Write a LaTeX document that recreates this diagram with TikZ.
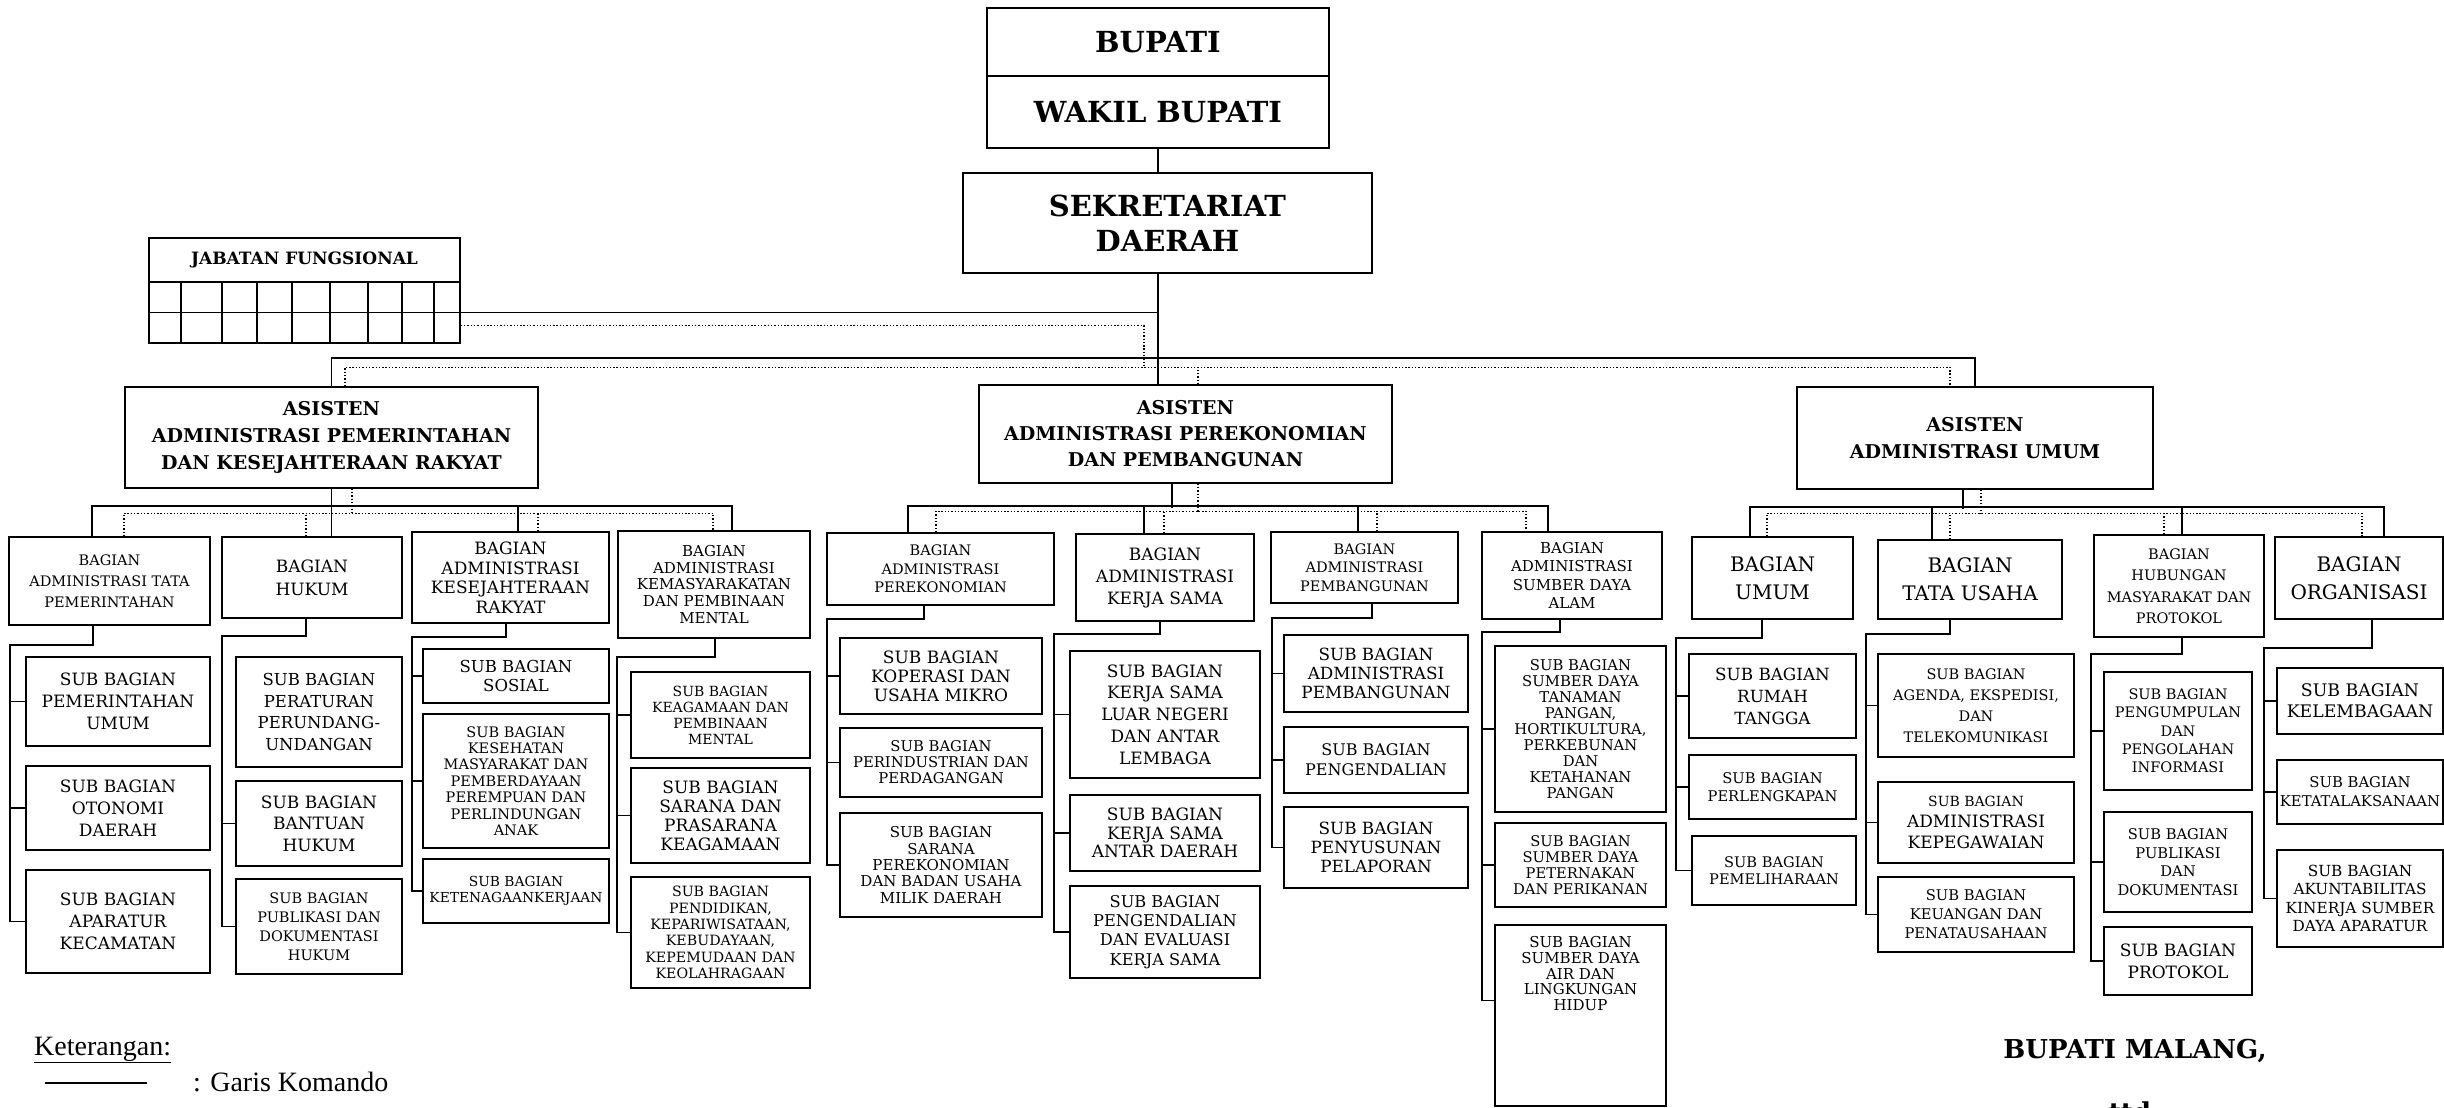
\documentclass[tikz,border=0pt]{standalone}
\usepackage{fontspec}
\setmainfont{DejaVu Serif}
\newfontfamily\legendfont{Liberation Serif}
\newcommand{\fsz}[2]{\fontsize{#1}{#2}\selectfont}
\newcommand{\orgunit}[7][]{\node[orgbox,#1,minimum width={#5-#3},minimum height={#6-#4}] (#2) at ({(#3+#5)/2},{(#4+#6)/2}) {#7};}

\begin{document}
\begin{tikzpicture}[x=1pt,y=-1pt,
		orgbox/.style={draw,line width=1.5pt,inner sep=0pt,align=center},
		komando/.style={line width=1.6pt},
		koordinasi/.style={line width=1.4pt,dash pattern=on 1.4pt off 1.9pt}]
		\useasboundingbox (0,0) rectangle (2444,1108);

		\orgunit[font=\fsz{29}{35}\bfseries]{Bupati}{987}{8}{1329}{76}{BUPATI}
		\orgunit[font=\fsz{29}{35}\bfseries]{WakilBupati}{987}{76}{1329}{148}{WAKIL BUPATI}
		\orgunit[font=\fsz{29}{35}\bfseries]{Sekda}{963}{173}{1372}{273}{SEKRETARIAT\\DAERAH}

		\orgunit[font=\fsz{17}{20}\bfseries]{Jafung}{149}{238}{460}{282}{JABATAN FUNGSIONAL}
		\orgunit{JafungGrid}{149}{282}{460}{343}{}
		\draw[line width=1.5pt] (JafungGrid.west) -- (JafungGrid.east)
			(181,282) -- (181,343) (222,282) -- (222,343) (257,282) -- (257,343)
			(292,282) -- (292,343) (330,282) -- (330,343) (368,282) -- (368,343)
			(402,282) -- (402,343) (434,282) -- (434,343);

		\orgunit[font=\fsz{19}{27}\bfseries]{AsPem}{125}{387}{538}{488}{ASISTEN\\ADMINISTRASI PEMERINTAHAN\\DAN KESEJAHTERAAN RAKYAT}
		\orgunit[font=\fsz{19}{26}\bfseries]{AsEkbang}{979}{385}{1392}{483}{ASISTEN\\ADMINISTRASI PEREKONOMIAN\\DAN PEMBANGUNAN}
		\orgunit[font=\fsz{19}{27}\bfseries]{AsUmum}{1797}{387}{2153}{489}{ASISTEN\\ADMINISTRASI UMUM}

		\orgunit[font=\fsz{14.5}{21}]{BagTapem}{9}{537}{210}{625}{BAGIAN\\ADMINISTRASI TATA\\PEMERINTAHAN}
		\orgunit[font=\fsz{17}{23}]{BagHukum}{222}{537}{402}{618}{BAGIAN\\HUKUM}
		\orgunit[font=\fsz{17}{19.5}]{BagKesra}{412}{532}{609}{623}{BAGIAN\\ADMINISTRASI\\KESEJAHTERAAN\\RAKYAT}
		\orgunit[font=\fsz{15}{16.7}]{BagKemas}{618}{531}{810}{638}{BAGIAN\\ADMINISTRASI\\KEMASYARAKATAN\\DAN PEMBINAAN\\MENTAL}

		\orgunit[font=\fsz{17}{22}]{SbPemUmum}{26}{657}{210}{746}{SUB BAGIAN\\PEMERINTAHAN\\UMUM}
		\orgunit[font=\fsz{17}{22}]{SbOtda}{26}{766}{210}{850}{SUB BAGIAN\\OTONOMI\\DAERAH}
		\orgunit[font=\fsz{17}{22}]{SbApKec}{26}{870}{210}{973}{SUB BAGIAN\\APARATUR\\KECAMATAN}
		\orgunit[font=\fsz{16.5}{21.5}]{SbPerUU}{236}{657}{402}{767}{SUB BAGIAN\\PERATURAN\\PERUNDANG-\\UNDANGAN}
		\orgunit[font=\fsz{17}{21.5}]{SbBanHuk}{236}{781}{402}{866}{SUB BAGIAN\\BANTUAN\\HUKUM}
		\orgunit[font=\fsz{14.5}{19}]{SbPubDokHuk}{236}{879}{402}{974}{SUB BAGIAN\\PUBLIKASI DAN\\DOKUMENTASI\\HUKUM}
		\orgunit[font=\fsz{16.5}{18.5}]{SbSosial}{423}{649}{609}{703}{SUB BAGIAN\\SOSIAL}
		\orgunit[font=\fsz{14.5}{16.4}]{SbKesmas}{423}{714}{609}{848}{SUB BAGIAN\\KESEHATAN\\MASYARAKAT DAN\\PEMBERDAYAAN\\PEREMPUAN DAN\\PERLINDUNGAN\\ANAK}
		\orgunit[font=\fsz{13.8}{16.3}]{SbNaker}{423}{859}{609}{923}{SUB BAGIAN\\KETENAGAANKERJAAN}
		\orgunit[font=\fsz{14}{16}]{SbKeagamaan}{631}{672}{810}{758}{SUB BAGIAN\\KEAGAMAAN DAN\\PEMBINAAN\\MENTAL}
		\orgunit[font=\fsz{17}{19}]{SbSarpras}{631}{768}{810}{863}{SUB BAGIAN\\SARANA DAN\\PRASARANA\\KEAGAMAAN}
		\orgunit[font=\fsz{14.2}{16.3}]{SbPendidikan}{631}{877}{810}{988}{SUB BAGIAN\\PENDIDIKAN,\\KEPARIWISATAAN,\\KEBUDAYAAN,\\KEPEMUDAAN DAN\\KEOLAHRAGAAN}

		\orgunit[font=\fsz{14.5}{18.7}]{BagPerekonomian}{827}{533}{1054}{605}{BAGIAN\\ADMINISTRASI\\PEREKONOMIAN}
		\orgunit[font=\fsz{17}{22}]{BagKerjaSama}{1076}{534}{1254}{621}{BAGIAN\\ADMINISTRASI\\KERJA SAMA}
		\orgunit[font=\fsz{14.5}{18.3}]{BagPembangunan}{1271}{532}{1458}{603}{BAGIAN\\ADMINISTRASI\\PEMBANGUNAN}
		\orgunit[font=\fsz{15}{18.5}]{BagSda}{1482}{532}{1662}{619}{BAGIAN\\ADMINISTRASI\\SUMBER DAYA\\ALAM}

		\orgunit[font=\fsz{17}{19}]{SbKoperasi}{840}{638}{1042}{714}{SUB BAGIAN\\KOPERASI DAN\\USAHA MIKRO}
		\orgunit[font=\fsz{14.8}{16}]{SbIndag}{840}{728}{1042}{797}{SUB BAGIAN\\PERINDUSTRIAN DAN\\PERDAGANGAN}
		\orgunit[font=\fsz{15}{16.3}]{SbBumd}{840}{813}{1042}{917}{SUB BAGIAN\\SARANA\\PEREKONOMIAN\\DAN BADAN USAHA\\MILIK DAERAH}
		\orgunit[font=\fsz{17}{21.7}]{SbKsLn}{1070}{651}{1260}{778}{SUB BAGIAN\\KERJA SAMA\\LUAR NEGERI\\DAN ANTAR\\LEMBAGA}
		\orgunit[font=\fsz{17}{18.7}]{SbKsDaerah}{1070}{795}{1260}{871}{SUB BAGIAN\\KERJA SAMA\\ANTAR DAERAH}
		\orgunit[font=\fsz{16.2}{19.2}]{SbKsEval}{1070}{886}{1260}{978}{SUB BAGIAN\\PENGENDALIAN\\DAN EVALUASI\\KERJA SAMA}
		\orgunit[font=\fsz{16.8}{19.2}]{SbAdmPemb}{1284}{635}{1468}{712}{SUB BAGIAN\\ADMINISTRASI\\PEMBANGUNAN}
		\orgunit[font=\fsz{16}{20}]{SbPengendalian}{1284}{727}{1468}{793}{SUB BAGIAN\\PENGENDALIAN}
		\orgunit[font=\fsz{16.8}{19}]{SbPelaporan}{1284}{807}{1468}{888}{SUB BAGIAN\\PENYUSUNAN\\PELAPORAN}
		\orgunit[font=\fsz{14.8}{16}]{SbSdTanaman}{1495}{646}{1666}{812}{SUB BAGIAN\\SUMBER DAYA\\TANAMAN\\PANGAN,\\HORTIKULTURA,\\PERKEBUNAN\\DAN\\KETAHANAN\\PANGAN}
		\orgunit[font=\fsz{14.7}{16.1}]{SbSdTernak}{1495}{823}{1666}{907}{SUB BAGIAN\\SUMBER DAYA\\PETERNAKAN\\DAN PERIKANAN}
		\orgunit{SbSdAir}{1495}{925}{1666}{1106}{}
		\node[align=center,inner sep=0pt,anchor=north,font=\fsz{15}{15.8}] (SbSdAirText) at ([yshift=-12pt]SbSdAir.north) {SUB BAGIAN\\SUMBER DAYA\\AIR DAN\\LINGKUNGAN\\HIDUP};

		\orgunit[font=\fsz{20}{28}]{BagUmum}{1692}{537}{1853}{619}{BAGIAN\\UMUM}
		\orgunit[font=\fsz{20}{28}]{BagTataUsaha}{1878}{540}{2062}{619}{BAGIAN\\TATA USAHA}
		\orgunit[font=\fsz{14.5}{21.5}]{BagHumas}{2094}{535}{2264}{637}{BAGIAN\\HUBUNGAN\\MASYARAKAT DAN\\PROTOKOL}
		\orgunit[font=\fsz{20}{28}]{BagOrganisasi}{2275}{537}{2443}{619}{BAGIAN\\ORGANISASI}

		\orgunit[font=\fsz{16.8}{22}]{SbRumahTangga}{1689}{654}{1856}{738}{SUB BAGIAN\\RUMAH\\TANGGA}
		\orgunit[font=\fsz{14.7}{17.7}]{SbPerlengkapan}{1689}{755}{1856}{819}{SUB BAGIAN\\PERLENGKAPAN}
		\orgunit[font=\fsz{14.6}{17.5}]{SbPemeliharaan}{1692}{836}{1856}{905}{SUB BAGIAN\\PEMELIHARAAN}
		\orgunit[font=\fsz{14.5}{21}]{SbAgenda}{1878}{654}{2074}{757}{SUB BAGIAN\\AGENDA, EKSPEDISI,\\DAN\\TELEKOMUNIKASI}
		\orgunit[font=\fsz{17}{21}]{SbKepegawaian}{1878}{782}{2074}{863}{{\fontsize{14}{21}\selectfont SUB BAGIAN}\\ADMINISTRASI\\KEPEGAWAIAN}
		\orgunit[font=\fsz{14.7}{19}]{SbKeuangan}{1878}{877}{2074}{952}{SUB BAGIAN\\KEUANGAN DAN\\PENATAUSAHAAN}
		\orgunit[font=\fsz{14.5}{18.3}]{SbInformasi}{2104}{672}{2252}{790}{SUB BAGIAN\\PENGUMPULAN\\DAN\\PENGOLAHAN\\INFORMASI}
		\orgunit[font=\fsz{14.7}{18.5}]{SbPublikasi}{2104}{812}{2252}{912}{SUB BAGIAN\\PUBLIKASI\\DAN\\DOKUMENTASI}
		\orgunit[font=\fsz{17}{22}]{SbProtokol}{2104}{927}{2252}{995}{SUB BAGIAN\\PROTOKOL}
		\orgunit[font=\fsz{17.3}{21}]{SbKelembagaan}{2277}{668}{2443}{734}{SUB BAGIAN\\KELEMBAGAAN}
		\orgunit[font=\fsz{14.8}{19}]{SbKetatalaksanaan}{2277}{760}{2443}{824}{SUB BAGIAN\\KETATALAKSANAAN}
		\orgunit[font=\fsz{15.3}{18.5}]{SbAkuntabilitas}{2277}{850}{2443}{947}{SUB BAGIAN\\AKUNTABILITAS\\KINERJA SUMBER\\DAYA APARATUR}

		\coordinate (KoordAtas) at (1144,368);
		\coordinate (SpTapem) at (10,645);
		\coordinate (SpHukum) at (222,636);
		\coordinate (SpKesra) at (412,637);
		\coordinate (SpKemas) at (617,657);
		\coordinate (SpPerek) at (827,619);
		\coordinate (SpKs) at (1054,634);
		\coordinate (SpPemb) at (1272,618);
		\coordinate (SpSda) at (1482,632);
		\coordinate (SpUmum) at (1676,638);
		\coordinate (SpTu) at (1866,634);
		\coordinate (SpHumas) at (2091,654);
		\coordinate (SpOrg) at (2264,648);

		\draw[komando] (WakilBupati.south) -- (Sekda.north -| WakilBupati.south);
		\draw[komando] (WakilBupati.south |- Sekda.south) -- (WakilBupati.south |- AsEkbang.north);
		\draw[komando] (JafungGrid.east) -- (JafungGrid.east -| WakilBupati.south);
		\draw[koordinasi] ([yshift=-13pt]JafungGrid.east) -| (KoordAtas);

		\draw[komando] (AsPem.north) -- ++(0,-28) -| (AsUmum.north);
		\draw[koordinasi] ([xshift=13.5pt]AsPem.north) -- ++(0,-19) -| ([xshift=-25pt]AsUmum.north);
		\draw[koordinasi] ([xshift=12.5pt]AsEkbang.north) -- ++(0,-17);

		\draw[komando] (AsPem.south) -- (AsPem.south |- BagHukum.north);
		\draw[komando] ([xshift=-17.5pt]BagTapem.north) -- ++(0,-30) -| ([xshift=18pt]BagKemas.north);
		\draw[komando] ([xshift=7.5pt]BagKesra.north) -- ++(0,-25);
		\draw[koordinasi] ([xshift=20.5pt]AsPem.south) -- ++(0,26);
		\draw[koordinasi] ([xshift=14.5pt]BagTapem.north) -- ++(0,-23) -| ([xshift=-1pt]BagKemas.north);
		\draw[koordinasi] ([xshift=-6pt]BagHukum.north) -- ++(0,-23);
		\draw[koordinasi] ([xshift=27.5pt]BagKesra.north) -- ++(0,-18);

		\draw[komando] ([xshift=-13.5pt]AsEkbang.south) -- ++(0,24);
		\draw[komando] ([xshift=-32.5pt]BagPerekonomian.north) -- ++(0,-26) -| ([xshift=-24pt]BagSda.north);
		\draw[komando] ([xshift=-21pt]BagKerjaSama.north) -- ++(0,-27);
		\draw[komando] ([xshift=-6.5pt]BagPembangunan.north) -- ++(0,-25);
		\draw[koordinasi] ([xshift=12.5pt]AsEkbang.south) -- ++(0,29);
		\draw[koordinasi] ([xshift=-4.5pt]BagPerekonomian.north) -- ++(0,-21) -| ([xshift=-46pt]BagSda.north);
		\draw[koordinasi] ([xshift=-1pt]BagKerjaSama.north) -- ++(0,-22);
		\draw[koordinasi] ([xshift=12.5pt]BagPembangunan.north) -- ++(0,-20);

		\draw[komando] ([xshift=-12pt]AsUmum.south) -- ++(0,19);
		\draw[komando] ([xshift=-22.5pt]BagUmum.north) -- ++(0,-29) -| ([xshift=25pt]BagOrganisasi.north);
		\draw[komando] ([xshift=-38pt]BagTataUsaha.north) -- ++(0,-32);
		\draw[komando] ([xshift=3pt]BagHumas.north) -- ++(0,-27);
		\draw[koordinasi] ([xshift=6pt]AsUmum.south) -- ++(0,25);
		\draw[koordinasi] ([xshift=-5.5pt]BagUmum.north) -- ++(0,-23) -| ([xshift=3pt]BagOrganisasi.north);
		\draw[koordinasi] ([xshift=-20pt]BagTataUsaha.north) -- ++(0,-26);
		\draw[koordinasi] ([xshift=-15pt]BagHumas.north) -- ++(0,-21);

		\draw[komando] ([xshift=-16.5pt]BagTapem.south) |- (SpTapem) |- (SbApKec.west);
		\draw[komando] (SpTapem) |- (SbPemUmum.west);
		\draw[komando] (SpTapem) |- (SbOtda.west);
		\draw[komando] ([xshift=-6pt]BagHukum.south) |- (SpHukum) |- (SbPubDokHuk.west);
		\draw[komando] (SpHukum) |- (SbBanHuk.west);
		\draw[komando] ([xshift=-4.5pt]BagKesra.south) |- (SpKesra) |- (SbNaker.west);
		\draw[komando] (SpKesra) |- (SbSosial.west);
		\draw[komando] (SpKesra) |- (SbKesmas.west);
		\draw[komando] ([xshift=1pt]BagKemas.south) |- (SpKemas) |- (SbPendidikan.west);
		\draw[komando] (SpKemas) |- (SbKeagamaan.west);
		\draw[komando] (SpKemas) |- (SbSarpras.west);

		\draw[komando] ([xshift=-16.5pt]BagPerekonomian.south) |- (SpPerek) |- (SbBumd.west);
		\draw[komando] (SpPerek) |- (SbKoperasi.west);
		\draw[komando] (SpPerek) |- (SbIndag.west);
		\draw[komando] ([xshift=-5pt]BagKerjaSama.south) |- (SpKs) |- (SbKsEval.west);
		\draw[komando] (SpKs) |- (SbKsLn.west);
		\draw[komando] (SpKs) |- (SbKsDaerah.west);
		\draw[komando] ([xshift=7.5pt]BagPembangunan.south) |- (SpPemb) |- (SbPelaporan.west);
		\draw[komando] (SpPemb) |- (SbAdmPemb.west);
		\draw[komando] (SpPemb) |- (SbPengendalian.west);
		\draw[komando] ([xshift=-12pt]BagSda.south) |- (SpSda) |- ([yshift=15pt]SbSdAir.west);
		\draw[komando] (SpSda) |- (SbSdTanaman.west);
		\draw[komando] (SpSda) |- (SbSdTernak.west);

		\draw[komando] ([xshift=-10.5pt]BagUmum.south) |- (SpUmum) |- (SbPemeliharaan.west);
		\draw[komando] (SpUmum) |- (SbRumahTangga.west);
		\draw[komando] (SpUmum) |- (SbPerlengkapan.west);
		\draw[komando] ([xshift=-20pt]BagTataUsaha.south) |- (SpTu) |- (SbKeuangan.west);
		\draw[komando] (SpTu) |- (SbAgenda.west);
		\draw[komando] (SpTu) |- (SbKepegawaian.west);
		\draw[komando] ([xshift=3pt]BagHumas.south) |- (SpHumas) |- (SbProtokol.west);
		\draw[komando] (SpHumas) |- (SbInformasi.west);
		\draw[komando] (SpHumas) |- (SbPublikasi.west);
		\draw[komando] ([xshift=13pt]BagOrganisasi.south) |- (SpOrg) |- (SbAkuntabilitas.west);
		\draw[komando] (SpOrg) |- (SbKelembagaan.west);
		\draw[komando] (SpOrg) |- (SbKetatalaksanaan.west);

		\node[anchor=base west,inner sep=0pt,font=\legendfont\fsz{28}{30}] (Keterangan) at (34,1055) {\underline{Keterangan:}};
		\coordinate (LegendA) at (45,1083);
		\coordinate (LegendB) at (147,1083);
		\draw[komando] (LegendA) -- (LegendB);
		\node[anchor=base west,inner sep=0pt,font=\legendfont\fsz{28}{30}] (GarisKomando) at (193,1091) {: Garis Komando};

		\node[anchor=base,inner sep=0pt,font=\fsz{26}{30}\bfseries] (BupatiMalang) at (2135,1058) {BUPATI MALANG,};
		\node[anchor=base,inner sep=0pt,font=\fsz{26}{30}\bfseries] (Ttd) at (2130,1121) {ttd};
	\end{tikzpicture}
\end{document}
